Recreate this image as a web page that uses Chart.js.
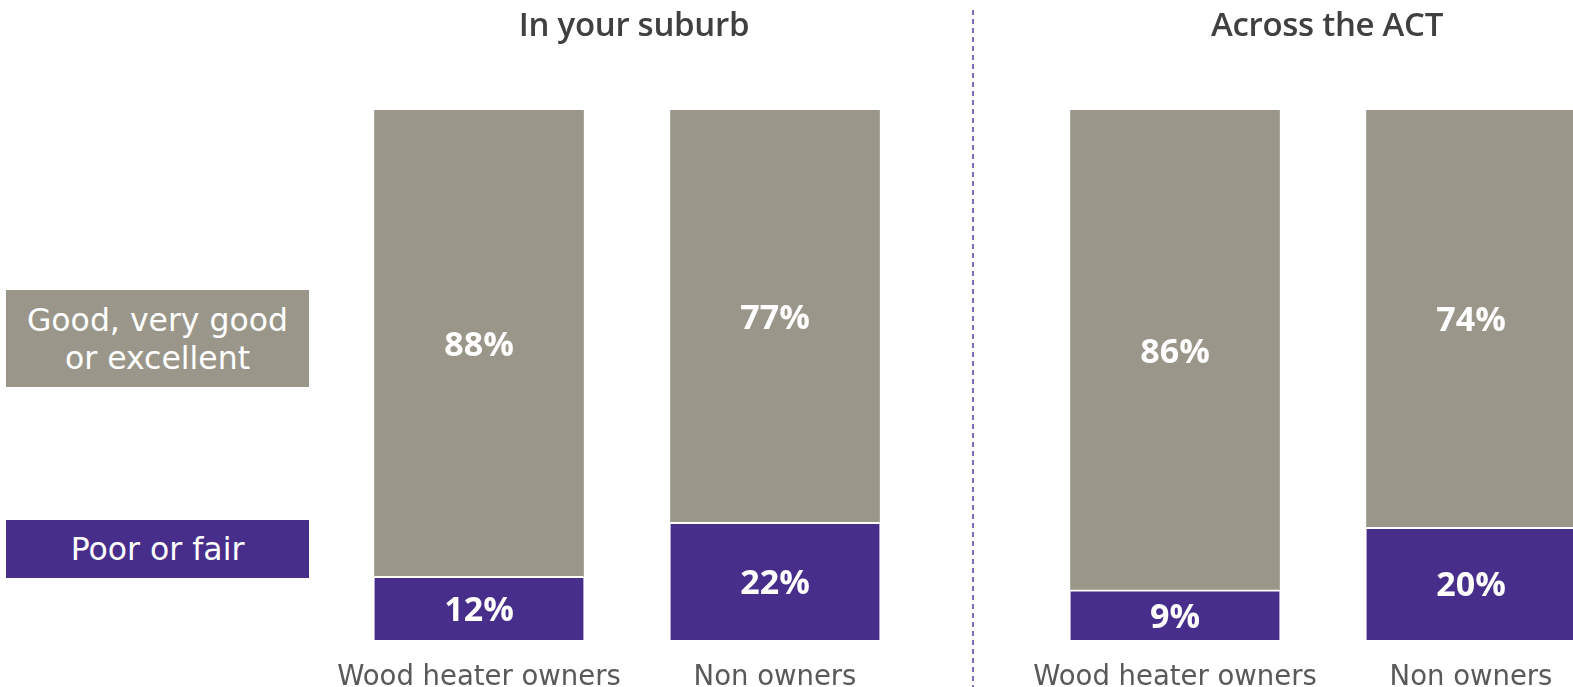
<!DOCTYPE html>
<html>
<head>
<meta charset="utf-8">
<script src="https://cdn.jsdelivr.net/npm/chart.js@4.4.1/dist/chart.umd.min.js"></script>
<style>
  html, body { margin:0; padding:0; background:#fff; width:1573px; height:687px; overflow:hidden; }
  #wrap { position:relative; width:1573px; height:687px; overflow:hidden; }
  canvas { position:absolute; top:0; }
  .title { position:absolute; top:1px; font-family:"Open Sans", sans-serif; font-weight:600; font-size:33px; color:#404040; text-align:center; white-space:nowrap; transform:translateX(-50%); letter-spacing:-0.3px; }
  .legend { position:absolute; left:6px; width:303px; color:#fff; font-family:"DejaVu Sans", sans-serif; font-size:31.5px; line-height:38px; text-align:center; display:flex; align-items:center; justify-content:center; white-space:pre-line; }
  #divider { position:absolute; left:972px; top:10px; width:2px; height:677px;
    background:repeating-linear-gradient(to bottom, #7b6dbd 0 5px, transparent 5px 9px); }
</style>
</head>
<body>
<div id="wrap">
  <div id="divider"></div>
  <canvas id="c1" width="592" height="715" style="left:331px"></canvas>
  <canvas id="c2" width="592" height="715" style="left:1027px"></canvas>
</div>
<script>
// ---- data ----
const categories = ['Wood heater owners', 'Non owners'];
const panelTitles = ['In your suburb', 'Across the ACT'];
const seriesNames = ['Poor or fair', 'Good, very good\nor excellent'];
const suburbPoor = [12, 22];
const suburbGood = [88, 77];
const actPoor = [9, 20];
const actGood = [86, 74];

const PURPLE = '#482e8b';
const GREY = '#9a978a';

// share of the bar (bars are drawn as 100% stacks)
function share(a, b) { return a.map((v, i) => v / (a[i] + b[i]) * 100); }

const labelPlugin = {
  id: 'segLabels',
  afterDatasetsDraw(chart) {
    const ctx = chart.ctx;
    ctx.save();
    ctx.font = 'bold 34px "Open Sans", sans-serif';
    ctx.fillStyle = '#ffffff';
    ctx.textAlign = 'center';
    ctx.textBaseline = 'middle';
    chart.data.datasets.forEach((ds, di) => {
      const meta = chart.getDatasetMeta(di);
      meta.data.forEach((el, i) => {
        const cy = (el.y + el.base) / 2;
        ctx.fillText(ds.raw[i] + '%', el.x, cy + 3);
      });
    });
    ctx.restore();
  }
};

function makeChart(id, poor, good) {
  const ps = share(poor, good), gs = share(good, poor);
  return new Chart(document.getElementById(id), {
    type: 'bar',
    data: {
      labels: categories,
      datasets: [
        { label: seriesNames[0], data: ps, raw: poor, backgroundColor: PURPLE,
          borderColor: '#ffffff', borderWidth: { top: 2, left: 0, right: 0, bottom: 0 }, borderSkipped: false,
          barThickness: 209 },
        { label: seriesNames[1], data: gs, raw: good, backgroundColor: GREY,
          borderWidth: 0, barThickness: 209 }
      ]
    },
    options: {
      responsive: false,
      devicePixelRatio: 1,
      animation: false,
      layout: { padding: { top: 110, bottom: 0, left: 0, right: 0 } },
      plugins: { legend: { display: false }, title: { display: false }, tooltip: { enabled: false } },
      scales: {
        x: {
          stacked: true,
          grid: { display: false, drawTicks: false },
          border: { display: false },
          ticks: { color: '#595959', font: { family: 'DejaVu Sans', size: 27.5 }, padding: 21, maxRotation: 0, autoSkip: false },
          afterFit: (s) => { s.paddingLeft = 0; s.paddingRight = 0; }
        },
        y: { stacked: true, display: false, min: 0, max: 100 }
      }
    },
    plugins: [labelPlugin]
  });
}

makeChart('c1', suburbPoor, suburbGood);
makeChart('c2', actPoor, actGood);

// titles and legend (HTML text)
const wrap = document.getElementById('wrap');
[[panelTitles[0], 634], [panelTitles[1], 1327]].forEach(([t, x]) => {
  const d = document.createElement('div');
  d.className = 'title'; d.textContent = t; d.style.left = x + 'px';
  wrap.appendChild(d);
});
[[seriesNames[1], GREY, 290, 97], [seriesNames[0], PURPLE, 520, 58]].forEach(([t, c, top, h]) => {
  const d = document.createElement('div');
  d.className = 'legend'; d.textContent = t;
  d.style.background = c; d.style.top = top + 'px'; d.style.height = h + 'px';
  wrap.appendChild(d);
});
</script>
</body>
</html>
